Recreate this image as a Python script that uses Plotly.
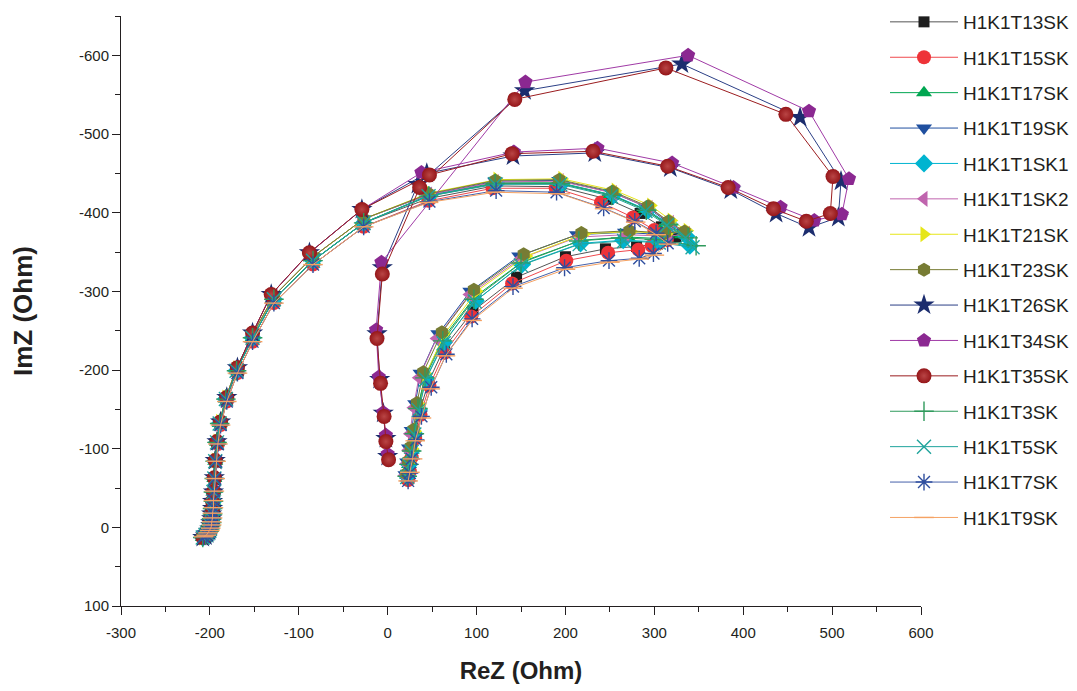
import plotly.graph_objects as go

# ---------------- tick labels ----------------
x_tick_vals = [-300, -200, -100, 0, 100, 200, 300, 400, 500, 600]
x_tick_text = ["-300", "-200", "-100", "0", "100", "200", "300", "400", "500", "600"]
y_tick_vals = [-600, -500, -400, -300, -200, -100, 0, 100]
y_tick_text = ["-600", "-500", "-400", "-300", "-200", "-100", "0", "100"]

series_names = ["H1K1T13SK", "H1K1T15SK", "H1K1T17SK", "H1K1T19SK", "H1K1T1SK1",
                "H1K1T1SK2", "H1K1T21SK", "H1K1T23SK", "H1K1T26SK", "H1K1T34SK",
                "H1K1T35SK", "H1K1T3SK", "H1K1T5SK", "H1K1T7SK", "H1K1T9SK"]

# ---------------- left (high frequency) arc, read per band ----------------
arc_top_x = [-208, -205, -203, -201, -200, -199, -199, -198, -198, -197, -197, -196, -195, -194, -192, -189, -182, -170, -152, -128, -84, -27]
arc_top_y = [13, 11, 8, 5, 2, -2, -6, -11, -17, -24, -33, -45, -62, -85, -109, -134, -165, -202, -245, -294, -344, -392]
arc_mid_x = [-208, -205, -203, -201, -200, -199, -198, -198, -197, -197, -196, -196, -195, -194, -192, -189, -182, -170, -152, -128, -84, -27]
arc_mid_y = [13, 10, 8, 5, 2, -2, -6, -11, -17, -24, -33, -45, -62, -84, -108, -132, -163, -199, -241, -290, -339, -387]
arc_low_x = [-207, -204, -202, -200, -199, -198, -198, -197, -197, -196, -196, -195, -194, -193, -191, -188, -181, -169, -152, -128, -84, -27]
arc_low_y = [12, 10, 7, 4, 1, -3, -7, -12, -18, -25, -34, -46, -62, -84, -106, -130, -160, -196, -236, -285, -334, -382]
arc_big_x = [-208, -205, -203, -201, -200, -199, -199, -198, -198, -197, -197, -196, -195, -194, -192, -188, -181, -169, -152, -131, -88, -29]
arc_big_y = [13, 11, 8, 5, 2, -2, -6, -11, -17, -24, -33, -45, -63, -85, -109, -134, -165, -203, -247, -296, -349, -404]

# ---------------- remaining points of each series ----------------
t13_x = [46, 120, 193, 248, 284, 308, 324, 303, 280, 245, 200, 145, 96, 64, 46, 36, 31, 27, 24, 22]
t13_y = [-418, -434, -433, -417, -399, -382, -369, -360, -357, -354, -344, -318, -275, -229, -185, -147, -116, -92, -74, -62]
t15_x = [46, 118, 189, 240, 276, 300, 314, 297, 282, 248, 201, 140, 94, 64, 47, 37, 31, 27, 25, 23]
t15_y = [-415, -431, -431, -413, -394, -378, -365, -358, -353, -349, -339, -310, -268, -222, -180, -143, -113, -89, -71, -60]
t17_x = [46, 121, 194, 251, 290, 313, 331, 309, 270, 218, 152, 98, 62, 42, 34, 30, 27, 24, 22]
t17_y = [-422, -438, -438, -423, -404, -386, -372, -367, -369, -365, -338, -293, -240, -192, -153, -120, -98, -80, -66]
t19_x = [46, 121, 193, 252, 292, 315, 333, 308, 267, 213, 148, 93, 57, 37, 31, 27, 24, 22, 20]
t19_y = [-423, -440, -441, -426, -407, -388, -375, -372, -375, -372, -345, -300, -246, -196, -157, -123, -101, -83, -67]
t1sk1_x = [47, 122, 196, 254, 293, 317, 336, 340, 305, 265, 217, 151, 99, 63, 43, 35, 30, 27, 24, 22]
t1sk1_y = [-422, -437, -437, -422, -403, -385, -370, -358, -363, -365, -361, -334, -288, -235, -189, -150, -119, -97, -80, -65]
t1sk2_x = [46, 121, 194, 254, 294, 318, 336, 316, 268, 214, 150, 92, 55, 35, 29, 25, 23, 21, 19]
t1sk2_y = [-423, -439, -440, -425, -406, -387, -373, -370, -372, -369, -342, -296, -240, -190, -152, -119, -98, -81, -66]
t21_x = [47, 123, 196, 256, 296, 319, 337, 314, 274, 221, 156, 100, 64, 43, 36, 31, 28, 25, 22]
t21_y = [-425, -442, -443, -428, -409, -390, -377, -373, -376, -373, -345, -300, -246, -195, -156, -122, -100, -83, -67]
t23_x = [46, 121, 193, 253, 293, 316, 334, 312, 272, 218, 153, 97, 61, 40, 33, 29, 26, 23, 21]
t23_y = [-424, -441, -442, -427, -408, -389, -376, -374, -377, -374, -347, -302, -248, -197, -158, -124, -102, -84, -68]
t26_x = [44, 141, 233, 318, 386, 437, 474, 507, 510, 464, 331, 154, 34, -6, -12, -9, -5, -2, 0]
t26_y = [-450, -472, -476, -457, -429, -399, -381, -394, -440, -521, -589, -555, -436, -330, -246, -188, -145, -113, -90]
t34_x = [38, 142, 236, 320, 389, 442, 480, 511, 519, 474, 338, 155, -7, -13, -10, -5, -2, 0]
t34_y = [-451, -477, -482, -463, -432, -407, -390, -398, -443, -529, -600, -566, -337, -251, -191, -146, -117, -93]
t35_x = [47, 140, 231, 315, 383, 434, 471, 498, 501, 448, 313, 143, 36, -6, -12, -8, -4, -2, 1]
t35_y = [-448, -475, -478, -459, -432, -405, -389, -399, -446, -525, -584, -544, -432, -322, -240, -183, -141, -109, -86]
t3_x = [46, 121, 194, 252, 291, 316, 338, 347, 300, 262, 215, 150, 97, 62, 42, 34, 30, 27, 24, 22]
t3_y = [-421, -437, -437, -422, -403, -385, -368, -358, -366, -368, -364, -336, -290, -237, -190, -151, -119, -97, -80, -65]
t5_x = [46, 121, 194, 251, 290, 314, 335, 343, 305, 266, 216, 150, 98, 63, 43, 35, 30, 27, 24, 22]
t5_y = [-421, -436, -436, -421, -402, -384, -368, -356, -362, -364, -360, -333, -287, -234, -188, -149, -118, -96, -79, -64]
t7_x = [47, 122, 190, 243, 278, 302, 315, 299, 283, 249, 199, 141, 95, 66, 49, 38, 32, 27, 25, 23]
t7_y = [-414, -428, -426, -406, -389, -374, -361, -348, -342, -339, -330, -306, -265, -220, -178, -141, -111, -87, -69, -59]
t9_x = [46, 121, 194, 244, 279, 302, 316, 300, 283, 250, 200, 141, 95, 65, 48, 38, 31, 28, 25, 23]
t9_y = [-413, -426, -424, -405, -388, -372, -360, -346, -341, -337, -328, -304, -263, -218, -176, -139, -110, -87, -70, -59]

series_data = {
    "H1K1T13SK": (arc_mid_x + t13_x, arc_mid_y + t13_y),
    "H1K1T15SK": (arc_low_x + t15_x, arc_low_y + t15_y),
    "H1K1T17SK": (arc_mid_x + t17_x, arc_mid_y + t17_y),
    "H1K1T19SK": (arc_top_x + t19_x, arc_top_y + t19_y),
    "H1K1T1SK1": (arc_mid_x + t1sk1_x, arc_mid_y + t1sk1_y),
    "H1K1T1SK2": (arc_top_x + t1sk2_x, arc_top_y + t1sk2_y),
    "H1K1T21SK": (arc_top_x + t21_x, arc_top_y + t21_y),
    "H1K1T23SK": (arc_top_x + t23_x, arc_top_y + t23_y),
    "H1K1T26SK": (arc_big_x + t26_x, arc_big_y + t26_y),
    "H1K1T34SK": (arc_big_x + t34_x, arc_big_y + t34_y),
    "H1K1T35SK": (arc_big_x + t35_x, arc_big_y + t35_y),
    "H1K1T3SK": (arc_mid_x + t3_x, arc_mid_y + t3_y),
    "H1K1T5SK": (arc_mid_x + t5_x, arc_mid_y + t5_y),
    "H1K1T7SK": (arc_low_x + t7_x, arc_low_y + t7_y),
    "H1K1T9SK": (arc_low_x + t9_x, arc_low_y + t9_y),
}

# ---------------- styles ----------------
styles = {
    "H1K1T13SK": dict(symbol="square", color="#1e1e1e", line="#555555", size=11),
    "H1K1T15SK": dict(symbol="circle", color="#ee3338", line="#f0494d", size=14),
    "H1K1T17SK": dict(symbol="triangle-up", color="#00a651", line="#00a651", size=14),
    "H1K1T19SK": dict(symbol="triangle-down", color="#1f4f9f", line="#1f4f9f", size=14),
    "H1K1T1SK1": dict(symbol="diamond", color="#00b4d0", line="#00b4d0", size=14),
    "H1K1T1SK2": dict(symbol="triangle-left", color="#c064ae", line="#c064ae", size=14),
    "H1K1T21SK": dict(symbol="triangle-right", color="#e6e619", line="#e6e619", size=14),
    "H1K1T23SK": dict(symbol="hexagon", color="#777c34", line="#777c34", size=14),
    "H1K1T26SK": dict(symbol="star", color="#1c2d6e", line="#2b3f86", size=16),
    "H1K1T34SK": dict(symbol="pentagon", color="#8b2891", line="#a03aa6", size=15),
    "H1K1T35SK": dict(symbol="circle", color="#951619", line="#9b1c1f", size=15, grad="#b94545"),
    "H1K1T3SK": dict(symbol="cross-thin", color="#2f9a5c", line="#2f9a5c", size=14, thin=True),
    "H1K1T5SK": dict(symbol="x-thin", color="#1fa49c", line="#1fa49c", size=14, thin=True),
    "H1K1T7SK": dict(symbol="asterisk", color="#2f4e9e", line="#4561aa", size=14, thin=True),
    "H1K1T9SK": dict(symbol="line-ew", color="#f5a263", line="#f5a263", size=14, thin=True),
}

fig = go.Figure()
for name in series_names:
    xs, ys = series_data[name]
    st = styles[name]
    marker = dict(symbol=st["symbol"], size=st["size"], color=st["color"])
    if st.get("thin"):
        marker["line"] = dict(width=1.4, color=st["color"])
    else:
        marker["line"] = dict(width=0)
    if st.get("grad"):
        marker["gradient"] = dict(type="radial", color=st["grad"])
    fig.add_trace(go.Scatter(
        x=xs, y=ys, mode="lines+markers", name=name, legendgroup=name,
        line=dict(color=st["line"], width=1),
        marker=marker,
    ))

font_family = "Arial, Liberation Sans, sans-serif"
fig.update_layout(
    width=1077, height=691,
    margin=dict(l=121, r=156, t=16, b=85, autoexpand=False),
    paper_bgcolor="white", plot_bgcolor="white",
    font=dict(family=font_family, color="#231f20", size=15),
    showlegend=True,
    legend=dict(xref="container", yref="container", x=885 / 1077, y=1 - 3 / 691,
                xanchor="left", yanchor="top",
                font=dict(size=19, color="#231f20"), tracegroupgap=7.7,
                itemwidth=68, bgcolor="rgba(0,0,0,0)", maxheight=660),
    xaxis=dict(range=[-300, 600], tickmode="array", tickvals=x_tick_vals, ticktext=x_tick_text,
               showline=True, linecolor="#231f20", linewidth=1, ticks="outside", ticklen=8,
               tickcolor="#231f20", showgrid=False, zeroline=False, ticklabelstandoff=5,
               minor=dict(tickmode="linear", tick0=-250, dtick=100, ticks="outside", ticklen=5,
                          tickcolor="#231f20", showgrid=False),
               title=dict(text="<b>ReZ (Ohm)</b>", font=dict(size=24), standoff=22)),
    yaxis=dict(range=[100, -650], tickmode="array", tickvals=y_tick_vals, ticktext=y_tick_text,
               showline=True, linecolor="#231f20", linewidth=1, ticks="outside", ticklen=8,
               tickcolor="#231f20", showgrid=False, zeroline=False,
               minor=dict(tickmode="linear", tick0=-550, dtick=100, ticks="outside", ticklen=5,
                          tickcolor="#231f20", showgrid=False),
               title=dict(text="<b>ImZ (Ohm)</b>", font=dict(size=26), standoff=38)),
)

fig.write_html("out.html")
